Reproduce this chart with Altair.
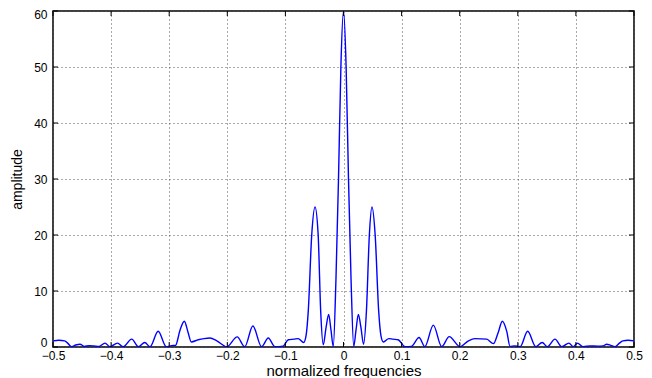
import altair as alt
import pandas as pd

# normalized frequency positions
freq = [
    -0.500, -0.490, -0.480, -0.474, -0.468, -0.461, -0.4535, -0.446, -0.438, -0.430,
    -0.421, -0.4105, -0.402, -0.389, -0.379, -0.3646, -0.353, -0.342, -0.333, -0.319,
    -0.305, -0.296, -0.289, -0.2814, -0.274, -0.2675, -0.262, -0.250, -0.240, -0.230,
    -0.218, -0.201, -0.183, -0.170, -0.156, -0.141, -0.1295, -0.118, -0.104, -0.095,
    -0.085, -0.078, -0.0686, -0.0645, -0.0606, -0.0547, -0.049, -0.0436, -0.0393, -0.0348,
    -0.0300, -0.0255, -0.0215, -0.0176, -0.0130, -0.0086, -0.0045, 0.0,
    0.0045, 0.0086, 0.0130, 0.0176, 0.0215, 0.0255, 0.0300, 0.0345, 0.0395, 0.0445,
    0.049, 0.0545, 0.0605, 0.0645, 0.0686, 0.078, 0.085, 0.094, 0.106, 0.117,
    0.130, 0.140, 0.1546, 0.169, 0.182, 0.2005, 0.215, 0.226, 0.2465, 0.258,
    0.266, 0.2734, 0.281, 0.2866, 0.295, 0.304, 0.317, 0.331, 0.342, 0.351,
    0.364, 0.3755, 0.388, 0.3955, 0.4025, 0.4127, 0.425, 0.437, 0.447, 0.453,
    0.460, 0.467, 0.474, 0.481, 0.490, 0.500,
]
# amplitude values
amp = [
    1.1, 1.2, 1.1, 0.6, 0.05, 0.35, 0.5, 0.1, 0.25, 0.2,
    0.1, 0.7, 0.05, 0.7, 0.05, 1.4, 0.05, 0.8, 0.05, 2.8,
    0.05, 0.25, 0.3, 3.0, 4.6, 2.6, 0.9, 1.3, 1.5, 1.6,
    1.1, 0.05, 1.8, 0.05, 3.75, 0.05, 1.6, 0.05, 0.15, 1.3,
    1.4, 1.5, 0.8, 2.0, 6.5, 20.0, 25.0, 20.0, 6.5, 0.4,
    3.5, 5.8, 3.0, 0.1, 12.0, 30.0, 50.0, 60.0,
    50.0, 30.0, 12.0, 0.1, 3.0, 5.8, 3.5, 0.5, 6.5, 20.0,
    25.0, 20.0, 6.5, 2.0, 0.9, 1.5, 1.4, 1.3, 0.05, 0.1,
    1.7, 0.05, 3.9, 0.05, 1.85, 0.05, 1.1, 1.5, 1.4, 0.6,
    2.5, 4.6, 2.8, 0.1, 0.2, 0.05, 2.8, 0.05, 0.8, 0.05,
    1.4, 0.05, 0.7, 0.05, 0.7, 0.05, 0.2, 0.15, 0.2, 0.5,
    0.3, 0.05, 0.6, 1.1, 1.2, 1.1,
]

x_ticks = [-0.5, -0.4, -0.3, -0.2, -0.1, 0.0, 0.1, 0.2, 0.3, 0.4, 0.5]
y_ticks = [0, 10, 20, 30, 40, 50, 60]

W, H = 581, 336
FONT = "Liberation Sans"

df = pd.DataFrame({"f": freq, "a": amp})
xt = pd.DataFrame({"f": x_ticks})
yt = pd.DataFrame({"a": y_ticks})

xscale = alt.Scale(domain=[-0.5, 0.5], nice=False, zero=False)
yscale = alt.Scale(domain=[0, 60], nice=False)

x_axis = alt.Axis(
    values=x_ticks, title="normalized frequencies", grid=True,
    gridDash=[1, 3], gridColor="#555555", gridWidth=1,
    ticks=False, tickSize=0, domain=False, labelFlush=False,
    labelExpr="datum.value == 0 ? '0' : format(datum.value, '.1f')",
    labelFont=FONT, labelFontSize=12, labelColor="black", labelPadding=3,
    titleFont=FONT, titleFontSize=15, titleFontWeight="normal", titleColor="black",
    titleY=28, titleBaseline="alphabetic",
)
y_axis = alt.Axis(
    values=y_ticks, title="amplitude", grid=True,
    gridDash=[1, 3], gridColor="#555555", gridWidth=1,
    ticks=False, tickSize=0, domain=False,
    labelFont=FONT, labelFontSize=12, labelColor="black", labelPadding=6,
    labelOffset={"expr": "datum.value == 60 ? 3 : (datum.value == 0 ? -5 : 0)"},
    titleFont=FONT, titleFontSize=14, titleFontWeight="normal", titleColor="black",
    titleX=-32, titleY=H / 2, titleBaseline="alphabetic", titleAngle=270,
)

line = alt.Chart(df).mark_line(
    color="#0000ff", strokeWidth=1.4, interpolate="monotone", clip=True
).encode(
    x=alt.X("f:Q", scale=xscale, axis=x_axis),
    y=alt.Y("a:Q", scale=yscale, axis=y_axis),
)

tick_len = 5
bottom = alt.Chart(xt).mark_rule(color="black", strokeWidth=1).encode(
    x=alt.X("f:Q", scale=xscale, axis=x_axis), y=alt.value(H), y2=alt.value(H - tick_len)
)
top = alt.Chart(xt).mark_rule(color="black", strokeWidth=1).encode(
    x=alt.X("f:Q", scale=xscale, axis=x_axis), y=alt.value(0), y2=alt.value(tick_len)
)
left = alt.Chart(yt).mark_rule(color="black", strokeWidth=1).encode(
    y=alt.Y("a:Q", scale=yscale, axis=y_axis), x=alt.value(0), x2=alt.value(tick_len)
)
right = alt.Chart(yt).mark_rule(color="black", strokeWidth=1).encode(
    y=alt.Y("a:Q", scale=yscale, axis=y_axis), x=alt.value(W), x2=alt.value(W - tick_len)
)

chart = alt.layer(line, bottom, top, left, right).properties(
    width=W, height=H,
    autosize=alt.AutoSizeParams(type="none"),
    padding={"left": 45, "top": 3, "right": 10, "bottom": 31},
    background="white",
).configure_view(stroke="black", strokeWidth=1.5)

chart.save("out.html", embed_options={"renderer": "svg", "actions": False})
